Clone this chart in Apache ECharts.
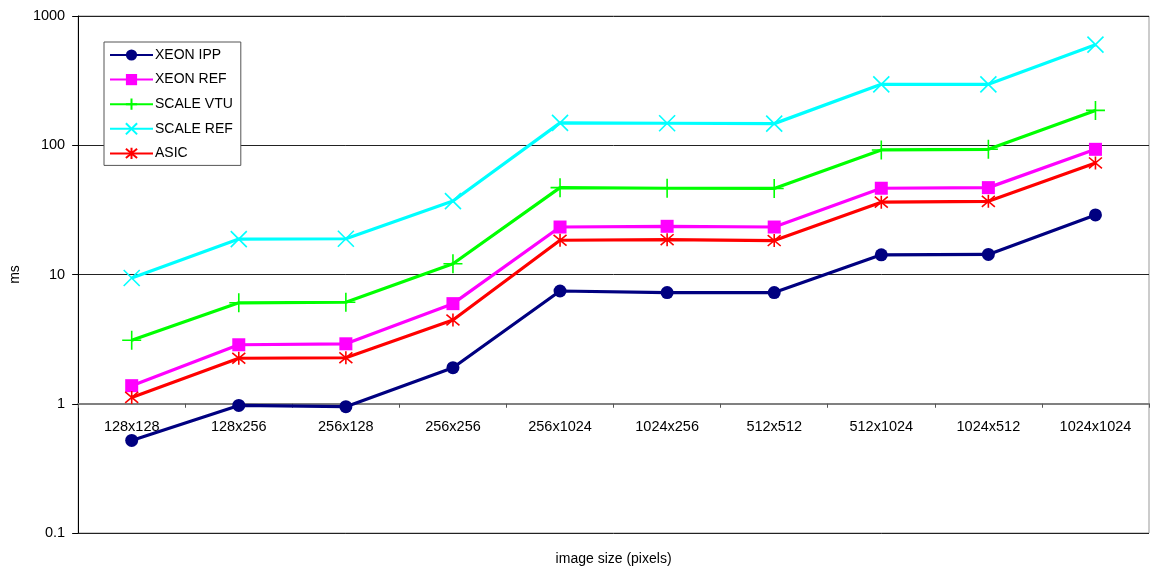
<!DOCTYPE html>
<html>
<head>
<meta charset="utf-8">
<script src="https://cdn.jsdelivr.net/npm/echarts@6/dist/echarts.min.js"></script>
<style>
  html, body { margin: 0; padding: 0; background: #fff; }
  #chart { width: 1151px; height: 574px; }
</style>
</head>
<body>
<div id="chart"></div>
<script>
// Image sizes on the category axis
const sizes = ['128x128', '128x256', '256x128', '256x256', '256x1024', '1024x256', '512x512', '512x1024', '1024x512', '1024x1024'];

// Run times in milliseconds per implementation
const xeonIpp   = [0.52, 0.97, 0.95, 1.90, 7.45, 7.25, 7.25, 14.2, 14.3, 28.9];
const xeonRef   = [1.38, 2.86, 2.91, 5.95, 23.3, 23.6, 23.3, 46.5, 47.0, 93];
const scaleVtu  = [3.1, 6.04, 6.1, 12.1, 47.0, 46.5, 46.3, 92, 93, 186];
const scaleRef  = [9.4, 18.8, 18.9, 37.0, 149, 148, 147, 296, 296, 600];
const asic      = [1.12, 2.25, 2.27, 4.45, 18.4, 18.6, 18.3, 36.3, 36.8, 73];

// Y tick labels (log scale decades)
const yTicks = ['0.1', '1', '10', '100', '1000'];

const FONT = 'Liberation Sans, Arial, sans-serif';

const PLUS = 'path://M0,-1 L0,1 M-1,0 L1,0';
const CROSS = 'path://M-1,-1 L1,1 M-1,1 L1,-1';
const STAR = 'path://M-1,-1 L1,1 M-1,1 L1,-1 M0,-1.2 L0,1.2';

function makeSeries(name, data, color, symbol, size, stroked) {
  return {
    name: name,
    type: 'line',
    data: data,
    color: color,
    symbol: symbol,
    symbolSize: size,
    showAllSymbol: true,
    lineStyle: { color: color, width: 3.2 },
    itemStyle: stroked
      ? { color: color, borderColor: color, borderWidth: 1.6 }
      : { color: color, borderWidth: 0 },
    emphasis: { disabled: true },
    animation: false
  };
}

const chart = echarts.init(document.getElementById('chart'), null, { renderer: 'canvas' });

chart.setOption({
  backgroundColor: '#fff',
  animation: false,
  textStyle: { fontFamily: FONT },
  grid: {
    left: 78, right: 2, top: 16, bottom: 41,
    show: true, borderColor: '#999', borderWidth: 1, backgroundColor: 'transparent'
  },
  legend: {
    orient: 'vertical',
    left: 104, top: 42,
    padding: [6, 8, 5, 5],
    itemWidth: 43, itemHeight: 14, itemGap: 10.6,
    backgroundColor: '#fff',
    borderColor: '#555', borderWidth: 1,
    textStyle: { fontFamily: FONT, fontSize: 14, color: '#000', padding: [0, 0, 0, -3] },
    data: ['XEON IPP', 'XEON REF', 'SCALE VTU', 'SCALE REF', 'ASIC']
  },
  xAxis: {
    type: 'category',
    data: sizes,
    boundaryGap: true,
    offset: -129.25,
    name: 'image size (pixels)',
    nameLocation: 'middle',
    nameGap: 148,
    nameTextStyle: { fontFamily: FONT, fontSize: 14, color: '#000' },
    axisLine: { lineStyle: { color: '#808080', width: 2 } },
    axisTick: { show: true, length: 4, interval: 0, lineStyle: { color: '#555' } },
    axisLabel: { interval: 0, margin: 16, fontFamily: FONT, fontSize: 14.5, color: '#000' },
    splitLine: { show: false }
  },
  yAxis: {
    type: 'log',
    logBase: 10,
    min: 0.1,
    max: 1000,
    name: 'ms',
    nameLocation: 'middle',
    nameGap: 56,
    nameRotate: 90,
    nameTextStyle: { fontFamily: FONT, fontSize: 14, color: '#000' },
    axisLine: { show: true, lineStyle: { color: '#000', width: 1 } },
    axisTick: { show: true, length: 6, lineStyle: { color: '#000' } },
    axisLabel: {
      margin: 13, fontFamily: FONT, fontSize: 14.5, color: '#000',
      formatter: function (v) {
        const idx = Math.round(Math.log10(v)) + 1;
        return yTicks[idx] !== undefined ? yTicks[idx] : '';
      }
    },
    splitLine: { show: true, lineStyle: { color: '#222', width: 1 } },
    minorTick: { show: false }
  },
  series: [
    makeSeries('XEON IPP', xeonIpp, '#000080', 'circle', 13, false),
    makeSeries('XEON REF', xeonRef, '#FF00FF', 'rect', 13, false),
    makeSeries('SCALE VTU', scaleVtu, '#00FF00', PLUS, 19, true),
    makeSeries('SCALE REF', scaleRef, '#00FFFF', CROSS, 16, true),
    makeSeries('ASIC', asic, '#FF0000', STAR, 13, true)
  ]
});
</script>
</body>
</html>
